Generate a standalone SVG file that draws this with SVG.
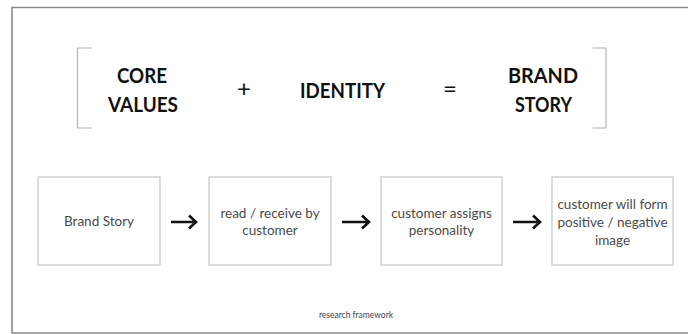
<svg xmlns="http://www.w3.org/2000/svg" width="688" height="334" viewBox="0 0 688 334">
  <style>
    .frame { fill: none; stroke: #8a8a8a; stroke-width: 1.6; }
    .bracket { fill: none; stroke: #b4b4b4; stroke-width: 1.2; }
    .head { font-family: Lato, "Open Sans", "Liberation Sans", sans-serif; font-weight: bold; font-size: 21.5px; fill: #111; text-anchor: middle; }
    .op { font-family: Lato, "Liberation Sans", sans-serif; font-size: 24px; fill: #111; text-anchor: middle; }
    .box { fill: #fff; stroke: #c6c6c6; stroke-width: 1.2; }
    .label { font-family: Lato, "Open Sans", "Liberation Sans", sans-serif; font-size: 13.5px; fill: #4a4a4a; text-anchor: middle; }
    .conn { fill: none; stroke: #111; stroke-width: 2.6; stroke-linecap: butt; }
    .caption { font-family: Lato, "Liberation Sans", sans-serif; font-size: 8.5px; fill: #444; text-anchor: middle; }
  </style>

  <rect width="688" height="334" fill="#fff"/>
  <!-- outer frame (right side runs past the edge) -->
  <path class="frame" d="M700,7.5 H12 V333 H700"/>

  <!-- equation row -->
  <g id="equation">
    <path class="bracket" d="M92,48 H77.5 V128 H92"/>
    <path class="bracket" d="M593,48 H606 V128 H593"/>
    <text class="head" x="142" y="83" textLength="50" lengthAdjust="spacingAndGlyphs">CORE</text>
    <text class="head" x="143" y="112" textLength="70" lengthAdjust="spacingAndGlyphs">VALUES</text>
    <text class="op" x="244" y="97">+</text>
    <text class="head" x="342.5" y="98" textLength="85" lengthAdjust="spacingAndGlyphs">IDENTITY</text>
    <text class="op" x="450" y="97">=</text>
    <text class="head" x="543" y="83" textLength="70" lengthAdjust="spacingAndGlyphs">BRAND</text>
    <text class="head" x="543.5" y="112" textLength="57" lengthAdjust="spacingAndGlyphs">STORY</text>
  </g>

  <!-- process nodes -->
  <g id="node-brand-story">
    <rect class="box" x="38" y="177" width="122" height="88"/>
    <text class="label" x="99" y="226">Brand Story</text>
  </g>
  <g id="node-read">
    <rect class="box" x="209" y="177" width="122" height="88"/>
    <text class="label" x="270" y="218">read / receive by</text>
    <text class="label" x="270" y="235">customer</text>
  </g>
  <g id="node-assigns">
    <rect class="box" x="381" y="177" width="121" height="88"/>
    <text class="label" x="441.5" y="218">customer assigns</text>
    <text class="label" x="441.5" y="235">personality</text>
  </g>
  <g id="node-image">
    <rect class="box" x="552" y="177" width="121" height="88"/>
    <text class="label" x="612.5" y="209">customer will form</text>
    <text class="label" x="612.5" y="227">positive / negative</text>
    <text class="label" x="612.5" y="245">image</text>
  </g>

  <!-- connectors -->
  <g id="connectors">
    <path class="conn" d="M171,222 H196 M189,215.5 L196,222 L189,228.5"/>
    <path class="conn" d="M342,222 H369 M362,215.5 L369,222 L362,228.5"/>
    <path class="conn" d="M513,222 H540 M533,215.5 L540,222 L533,228.5"/>
  </g>

  <text class="caption" x="356" y="318">research framework</text>
</svg>
